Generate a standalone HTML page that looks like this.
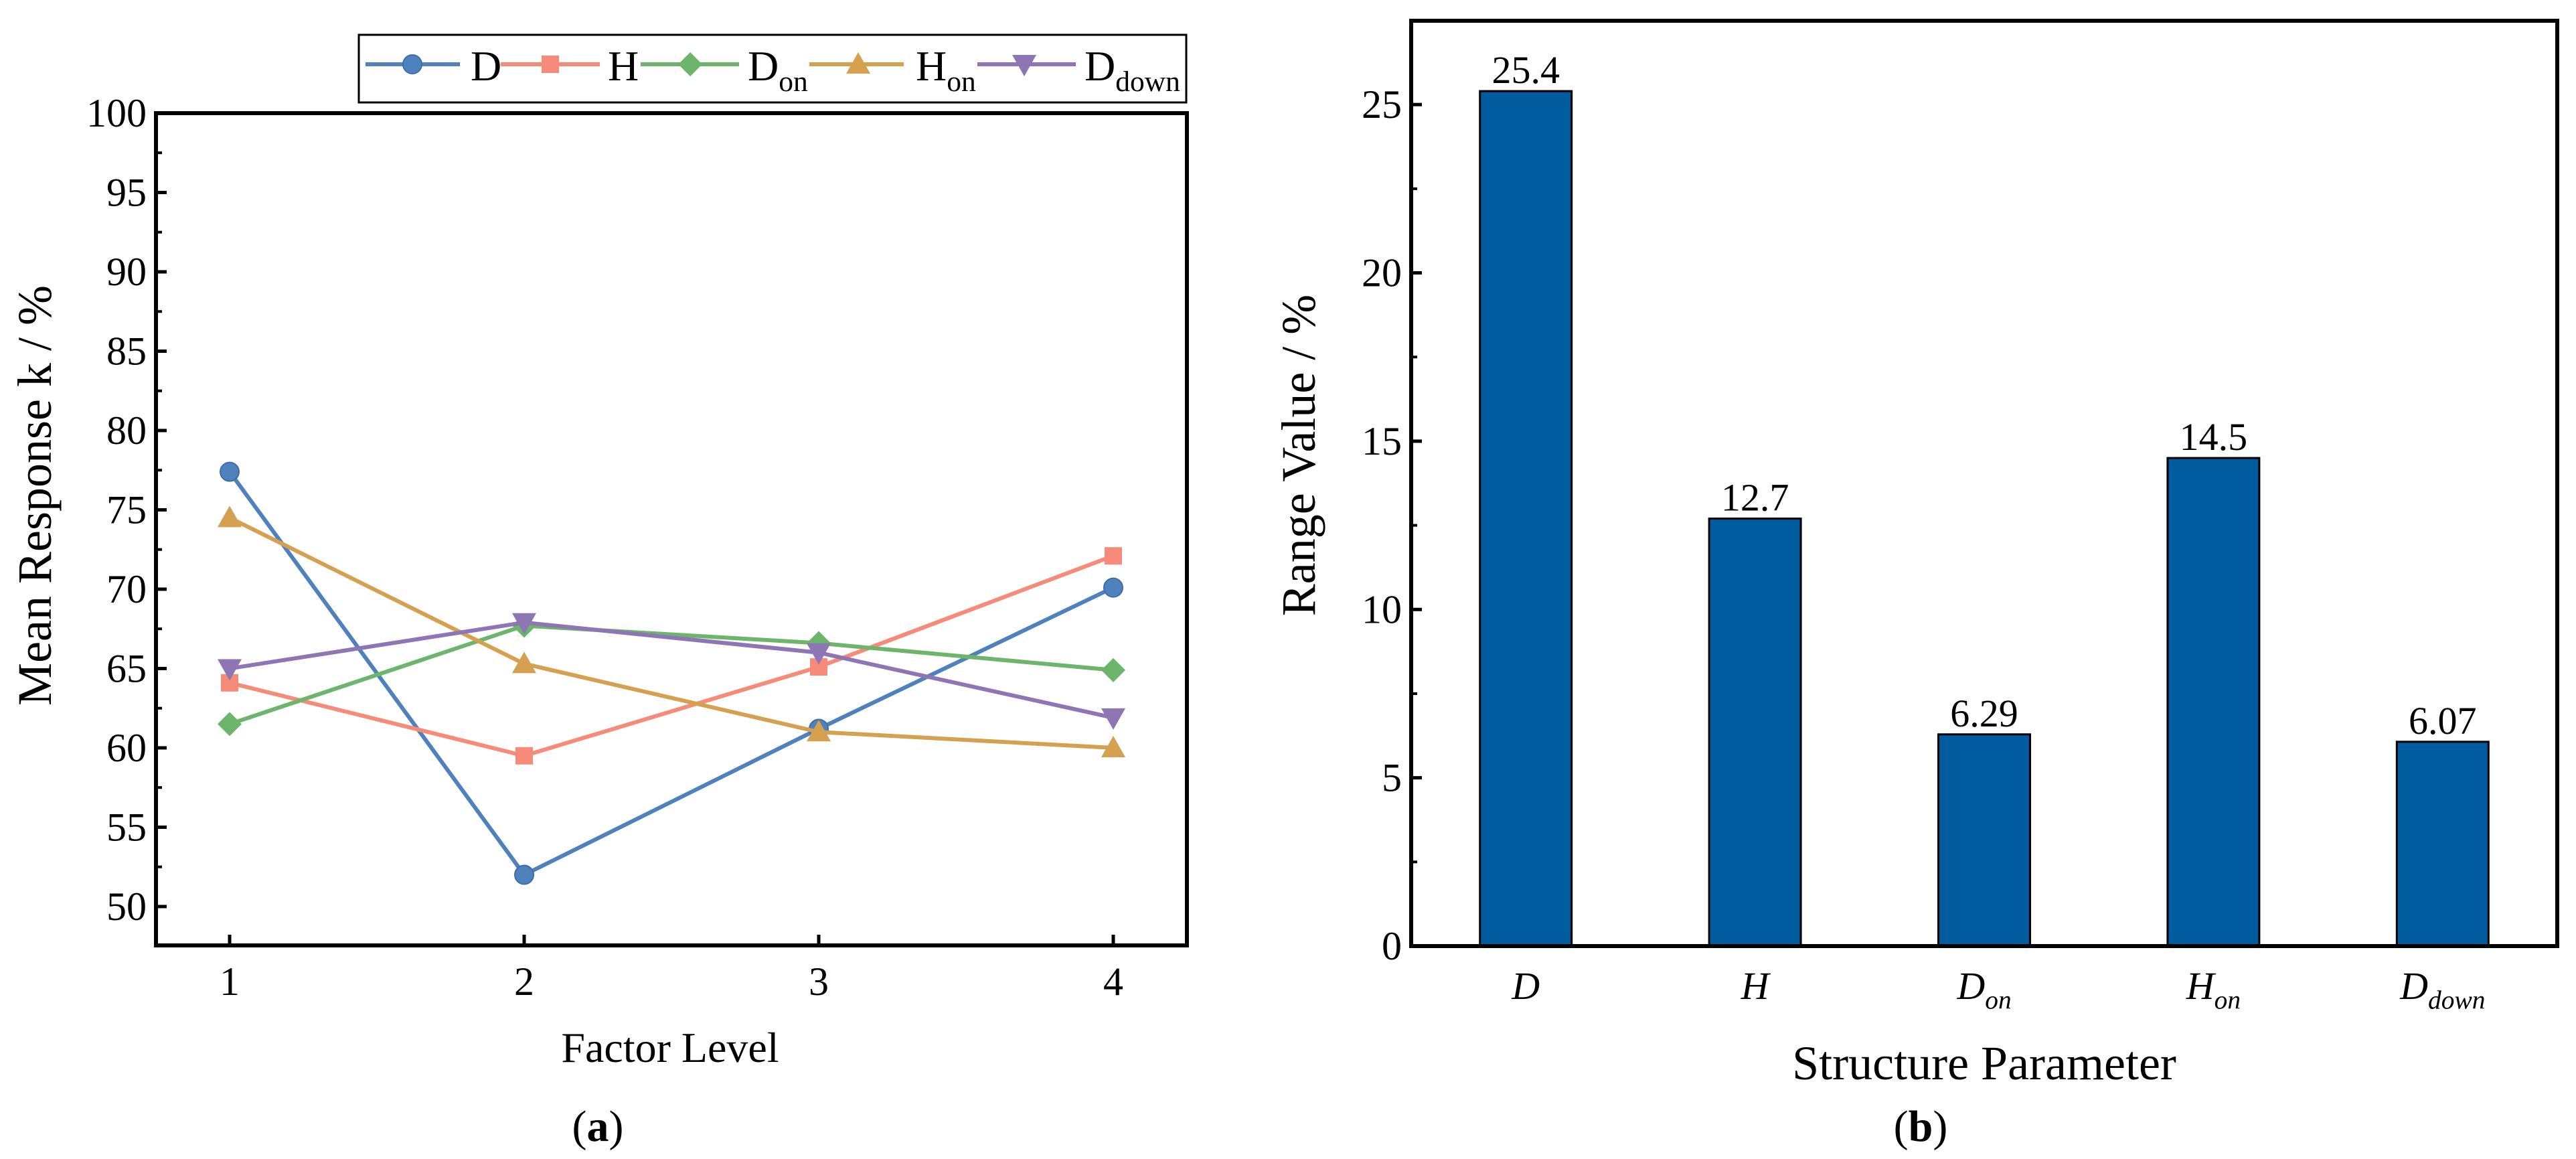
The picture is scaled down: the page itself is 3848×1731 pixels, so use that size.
<!DOCTYPE html>
<html><head><meta charset="utf-8"><style>
html,body{margin:0;padding:0;background:#fff;}
svg{display:block;font-family:"Liberation Serif",serif;}
</style></head><body>
<svg id="fig" width="3848" height="1731" viewBox="0 0 3848 1731" xmlns="http://www.w3.org/2000/svg"></svg>
<script>
const levels = [1, 2, 3, 4];
const seriesNames = ["D", "H", "Don", "Hon", "Ddown"];
const seriesD = [77.4, 52.0, 61.2, 70.1];
const seriesH = [64.1, 59.5, 65.1, 72.1];
const seriesDon = [61.5, 67.7, 66.6, 64.9];
const seriesHon = [74.5, 65.3, 61.0, 60.0];
const seriesDdown = [65.0, 67.9, 66.0, 61.9];
const leftYTicks = [50, 55, 60, 65, 70, 75, 80, 85, 90, 95, 100];
const barCategories = ["D", "H", "Don", "Hon", "Ddown"];
const barValues = [25.4, 12.7, 6.29, 14.5, 6.07];
const barLabels = ["25.4", "12.7", "6.29", "14.5", "6.07"];
const rightYTicks = [0, 5, 10, 15, 20, 25];

const NS = "http://www.w3.org/2000/svg";
const svg = document.getElementById("fig");
function mk(tag, attrs, parent) {
  const e = document.createElementNS(NS, tag);
  for (const k in attrs) e.setAttribute(k, attrs[k]);
  (parent || svg).appendChild(e);
  return e;
}
function sub(t, base, s, parent, fs, italic, anchor) {
  const el = mk("text", {x: t[0], y: t[1], "font-size": fs, "text-anchor": anchor || "start", "font-style": italic ? "italic" : "normal"}, parent);
  const a = document.createElementNS(NS, "tspan"); a.textContent = base; el.appendChild(a);
  if (s) { const b = document.createElementNS(NS, "tspan"); b.setAttribute("font-size", fs * 0.68); b.setAttribute("dy", fs * 0.25); b.textContent = s; el.appendChild(b); }
  return el;
}
const subParts = {D: ["D", ""], H: ["H", ""], Don: ["D", "on"], Hon: ["H", "on"], Ddown: ["D", "down"]};

// ---- Left chart ----
const L = {x0: 233, x1: 1773, y0: 169, y1: 1412, xmin: 0.75, xmax: 4.25, ymin: 47.55, ymax: 100};
const lx = v => L.x0 + (v - L.xmin) / (L.xmax - L.xmin) * (L.x1 - L.x0);
const ly = v => L.y1 - (v - L.ymin) / (L.ymax - L.ymin) * (L.y1 - L.y0);
const gL = mk("g", {});


const colors = {D: "#4f81bd", H: "#f58b78", Don: "#6db56a", Hon: "#d5a04f", Ddown: "#8e76b5"};
const data = {D: seriesD, H: seriesH, Don: seriesDon, Hon: seriesHon, Ddown: seriesDdown};
function marker(name, cx, cy, parent) {
  const c = colors[name], r = 14;
  let m;
  if (name === "D") m = mk("circle", {cx, cy, r, fill: c, stroke: "#3d6ea8", "stroke-width": 2}, parent);
  else if (name === "H") m = mk("rect", {x: cx - 13, y: cy - 13, width: 26, height: 26, fill: c}, parent);
  else if (name === "Don") m = mk("polygon", {points: `${cx},${cy-18} ${cx+18},${cy} ${cx},${cy+18} ${cx-18},${cy}`, fill: c}, parent);
  else if (name === "Hon") m = mk("polygon", {points: `${cx},${cy-18} ${cx+18},${cy+14} ${cx-18},${cy+14}`, fill: c}, parent);
  else m = mk("polygon", {points: `${cx},${cy+18} ${cx+18},${cy-14} ${cx-18},${cy-14}`, fill: c}, parent);
  return m;
}
leftYTicks.forEach((t, i) => {
  const y = ly(t);
  const tk = mk("line", {x1: L.x0, x2: L.x0 + 16, y1: y, y2: y, stroke: "#000", "stroke-width": 5}, gL);
  
  
  if (i < leftYTicks.length - 1) {
    const ym = ly(t + 2.5);
    mk("line", {x1: L.x0, x2: L.x0 + 9, y1: ym, y2: ym, stroke: "#000", "stroke-width": 4}, gL);
  }
  const lb = mk("text", {x: L.x0 - 14, y: y + 20, "font-size": 60, "text-anchor": "end"}, gL);
  lb.textContent = t;
  
  
});
levels.forEach(v => {
  const x = lx(v);
  mk("line", {x1: x, x2: x, y1: L.y1, y2: L.y1 - 16, stroke: "#000", "stroke-width": 5}, gL);
  const lb = mk("text", {x, y: 1486, "font-size": 60, "text-anchor": "middle"}, gL);
  lb.textContent = v;
  
  
});
seriesNames.forEach(n => {
  const g = mk("g", {}, gL);
  
  
  const pts = data[n].map((v, i) => lx(levels[i]) + "," + ly(v)).join(" ");
  mk("polyline", {points: pts, fill: "none", stroke: colors[n], "stroke-width": 6}, g);
  data[n].forEach((v, i) => {
    const m = marker(n, lx(levels[i]), ly(v), g);
    
    
  });
});
const frameL = mk("rect", {x: L.x0, y: L.y0, width: L.x1 - L.x0, height: L.y1 - L.y0, fill: "none", stroke: "#000", "stroke-width": 6}, gL);


const lg = mk("g", {}, gL);


mk("rect", {x: 536, y: 52, width: 1236, height: 101, fill: "#fff", stroke: "#000", "stroke-width": 3}, lg);
const legPos = [[546, 687, 616, 703], [748, 896, 822, 908], [957, 1104, 1031, 1117], [1209, 1350, 1282, 1368], [1460, 1607, 1530, 1620]];
seriesNames.forEach((n, i) => {
  const p = legPos[i], y = 96;
  const e = mk("g", {}, lg);
  
  
  mk("line", {x1: p[0], x2: p[1], y1: y, y2: y, stroke: colors[n], "stroke-width": 6}, e);
  marker(n, p[2], y, e);
  sub([p[3], 120], subParts[n][0], subParts[n][1], e, 64, false);
});
const ytl = mk("text", {x: 0, y: 0, "font-size": 72, "text-anchor": "middle", transform: "translate(76,740) rotate(-90)"}, gL);
ytl.textContent = "Mean Response k / %";


const xtl = mk("text", {x: 1001, y: 1586, "font-size": 64, "text-anchor": "middle"}, gL);
xtl.textContent = "Factor Level";


const pa = mk("text", {x: 893, y: 1704, "font-size": 66, "text-anchor": "middle"}, gL);
pa.innerHTML = '(<tspan font-weight="bold">a</tspan>)';



// ---- Right chart ----
const R = {x0: 2108, x1: 3820, y0: 31, y1: 1413, ymin: 0, ymax: 27.49};
const band = (R.x1 - R.x0) / barCategories.length;
const rx = i => R.x0 + band * (i + 0.5);
const ry = v => R.y1 - (v - R.ymin) / (R.ymax - R.ymin) * (R.y1 - R.y0);
const gR = mk("g", {});


rightYTicks.forEach((t, i) => {
  const y = ry(t);
  mk("line", {x1: R.x0, x2: R.x0 + 16, y1: y, y2: y, stroke: "#000", "stroke-width": 5}, gR);
  const ym = ry(t + 2.5);
  mk("line", {x1: R.x0, x2: R.x0 + 9, y1: ym, y2: ym, stroke: "#000", "stroke-width": 4}, gR);
  const lb = mk("text", {x: R.x0 - 14, y: y + 20, "font-size": 60, "text-anchor": "end"}, gR);
  lb.textContent = t;
  
  
});
const bw = band * 0.4;
barCategories.forEach((c, i) => {
  const b = mk("rect", {x: rx(i) - bw / 2, y: ry(barValues[i]), width: bw, height: ry(0) - ry(barValues[i]), fill: "#005b9f", stroke: "#000", "stroke-width": 3}, gR);
  
  
  const vl = mk("text", {x: rx(i), y: ry(barValues[i]) - 12, "font-size": 58, "text-anchor": "middle"}, gR);
  vl.textContent = barLabels[i];
  
  
  const cl = sub([rx(i), 1492], subParts[c][0], subParts[c][1], gR, 58, true, "middle");
  
  
});
const frameR = mk("rect", {x: R.x0, y: R.y0, width: R.x1 - R.x0, height: R.y1 - R.y0, fill: "none", stroke: "#000", "stroke-width": 6}, gR);


const ytr = mk("text", {x: 0, y: 0, "font-size": 72, "text-anchor": "middle", transform: "translate(1964,680) rotate(-90)"}, gR);
ytr.textContent = "Range Value / %";


const xtr = mk("text", {x: 2964, y: 1612, "font-size": 72, "text-anchor": "middle"}, gR);
xtr.textContent = "Structure Parameter";


const pb = mk("text", {x: 2869, y: 1704, "font-size": 66, "text-anchor": "middle"}, gR);
pb.innerHTML = '(<tspan font-weight="bold">b</tspan>)';


</script>
</body></html>
